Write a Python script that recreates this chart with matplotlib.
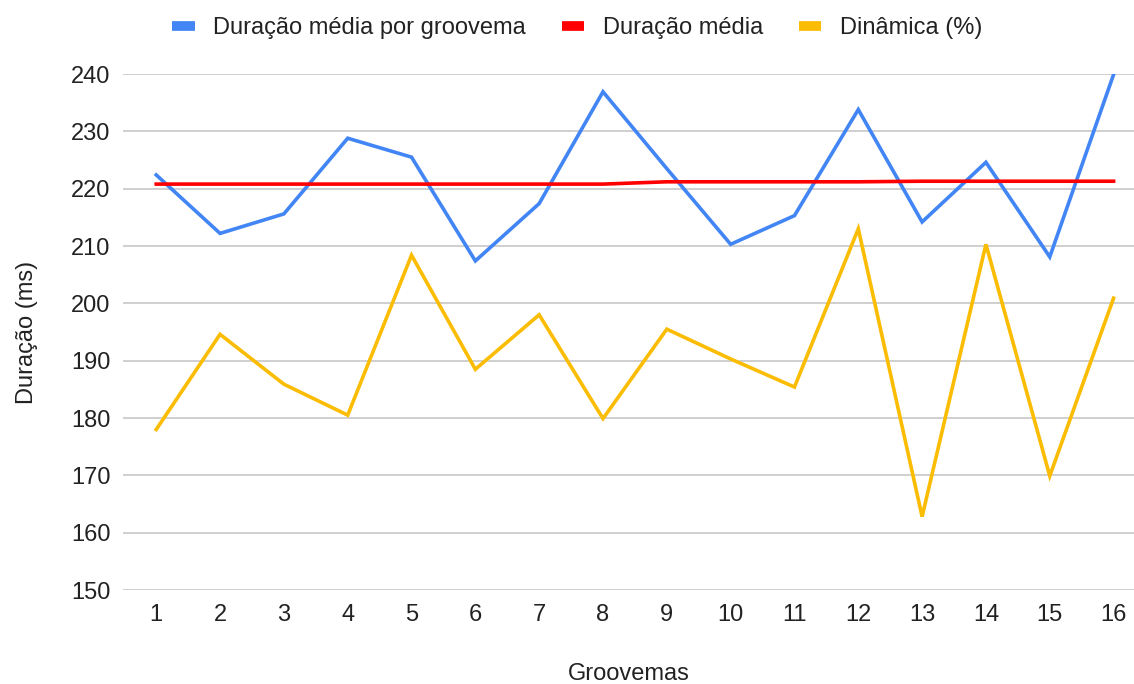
import matplotlib.pyplot as plt
from matplotlib.lines import Line2D

plt.rcParams['font.family'] = ['Liberation Sans', 'DejaVu Sans']

groovemas = list(range(1, 17))
duracao_groovema = [222.4, 212.2, 215.6, 228.8, 225.5, 207.4, 217.4, 236.9,
                    223.5, 210.3, 215.3, 233.8, 214.2, 224.6, 208.1, 239.9]
duracao_media = [220.8, 220.8, 220.8, 220.8, 220.8, 220.8, 220.8, 220.8,
                 221.2, 221.2, 221.2, 221.2, 221.3, 221.3, 221.3, 221.3]
dinamica = [178.0, 194.6, 185.9, 180.5, 208.4, 188.5, 198.0, 179.9,
            195.5, 190.3, 185.4, 213.0, 162.8, 210.3, 169.9, 200.9]

series = [
    ('Duração média por groovema', duracao_groovema, '#4285F4'),
    ('Duração média', duracao_media, '#FF0000'),
    ('Dinâmica (%)', dinamica, '#FBBC04'),
]

fs = 17
txt = '#222222'

fig = plt.figure(figsize=(11.34, 6.84), dpi=100)
ax = fig.add_axes([0.1085, 0.1374, 0.8915, 0.7544])

for name, vals, color in series:
    ax.plot(groovemas, vals, color=color, lw=2.6, solid_joinstyle='miter', zorder=3)

ax.set_ylim(150, 240)
ax.set_xlim(0.48, 16.32)
ax.set_yticks(range(150, 241, 10))
ax.set_xticks(groovemas)
ax.grid(axis='y', color='#cccccc', lw=1.3)
ax.grid(axis='x', visible=False)
for s in ax.spines.values():
    s.set_visible(False)
ax.tick_params(length=0, labelsize=fs, colors=txt)
ax.tick_params(axis='y', pad=9)
ax.tick_params(axis='x', pad=10)

ax.set_ylabel('Duração (ms)', fontsize=fs, color=txt, labelpad=24)
ax.set_xlabel('Groovemas', fontsize=fs, color=txt, labelpad=27)

handles = [Line2D([], [], color=c, lw=7, solid_capstyle='butt') for _, _, c in series]
fig.legend(handles, [n for n, _, _ in series], loc='center', bbox_to_anchor=(0.509, 0.959),
           ncol=3, frameon=False, fontsize=fs, handlelength=0.95, columnspacing=1.5,
           handletextpad=0.8, labelcolor=txt)

fig.savefig('out.png', dpi=100)
